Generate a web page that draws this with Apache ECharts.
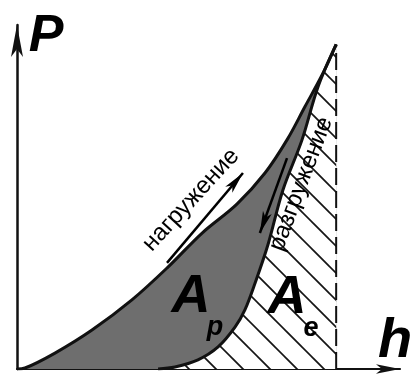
<!DOCTYPE html>
<html>
<head>
<meta charset="utf-8">
<script src="https://cdn.jsdelivr.net/npm/echarts@6/dist/echarts.min.js"></script>
<style>
  html, body { margin: 0; padding: 0; background: #fff; }
  #chart { width: 412px; height: 374px; }
</style>
</head>
<body>
<div id="chart"></div>
<script>
// Indentation depth h and load P, both relative to their maxima
const loadingH   = [0, 0.025, 0.119, 0.235, 0.360, 0.473, 0.580, 0.689, 0.777, 0.846, 0.902, 0.959, 1];
const loadingP   = [0, 0.003, 0.049, 0.120, 0.213, 0.314, 0.419, 0.508, 0.604, 0.706, 0.808, 0.912, 1];
const unloadingH = [0.442, 0.495, 0.567, 0.630, 0.683, 0.714, 0.746, 0.786, 0.833, 0.893, 0.943, 1];
const unloadingP = [0, 0.006, 0.028, 0.068, 0.129, 0.182, 0.265, 0.382, 0.551, 0.706, 0.869, 1];

// Direction arrows beside the curve captions: [start, end] in (h, P)
const loadingArrow   = [[0.470, 0.327], [0.708, 0.604]];
const unloadingArrow = [[0.846, 0.650], [0.761, 0.419]];

// Axis extents
const hMax = 1.2;
const pMax = 1.06;

const zip = (xs, ys) => xs.map((x, i) => [x, ys[i]]);
const loadingData = zip(loadingH, loadingP);
const unloadingData = zip(unloadingH, unloadingP);
const peakH = loadingH[loadingH.length - 1];
const peakP = loadingP[loadingP.length - 1];

// Diagonal hatching for the elastic work region
function hatch() {
  const s = 27;
  const c = document.createElement('canvas');
  c.width = s; c.height = s;
  const g = c.getContext('2d');
  g.fillStyle = '#fff';
  g.fillRect(0, 0, s, s);
  g.strokeStyle = '#151515';
  g.lineWidth = 1.7;
  for (const k of [-s, 0, s]) {
    g.beginPath();
    g.moveTo(-2, -2 + 18 + k);
    g.lineTo(s + 2, s + 2 + 18 + k);
    g.stroke();
  }
  return c;
}

const chart = echarts.init(document.getElementById('chart'), null, { renderer: 'canvas' });
const font = '"Liberation Sans", Arial, sans-serif';
const deg = Math.PI / 180;

function txt(text, x, y, size, style, rot) {
  return {
    type: 'text', x: x, y: y, rotation: (rot || 0) * deg, z: 100,
    style: {
      text: text, fill: '#000',
      font: style + ' ' + size + 'px ' + font,
      align: 'center', verticalAlign: 'middle',
      textAlign: 'center', textVerticalAlign: 'middle'
    }
  };
}

const curveLine = { color: '#111', width: 3 };

chart.setOption({
  animation: false,
  grid: { left: 17, right: 12, top: 25, bottom: 5 },
  xAxis: {
    type: 'value', min: 0, max: hMax,
    axisLine: { show: true, lineStyle: { color: '#111', width: 2.2 }, symbol: ['none', 'arrow'], symbolSize: [7, 24] },
    axisTick: { show: false }, axisLabel: { show: false }, splitLine: { show: false }
  },
  yAxis: {
    type: 'value', min: 0, max: pMax,
    axisLine: { show: true, lineStyle: { color: '#111', width: 2.5 }, symbol: ['none', 'arrow'], symbolSize: [9, 32] },
    axisTick: { show: false }, axisLabel: { show: false }, splitLine: { show: false }
  },
  series: [
    { // plastic work A_p: area under loading curve (later partly covered by hatching)
      type: 'line', data: loadingData, smooth: 0.35, showSymbol: false, silent: true,
      lineStyle: { opacity: 0 }, areaStyle: { color: '#6e6e6e', opacity: 1 }, z: 1
    },
    { // elastic work A_e: area under unloading curve
      type: 'line', data: unloadingData, smooth: 0.35, showSymbol: false, silent: true,
      lineStyle: { opacity: 0 }, areaStyle: { color: { image: hatch(), repeat: 'repeat' }, opacity: 1 }, z: 2
    },
    { // maximum depth marker
      type: 'line', data: [[peakH, 0], [peakH, peakP]], showSymbol: false, silent: true,
      lineStyle: { color: '#111', width: 2, type: [17, 6] }, z: 3
    },
    { type: 'line', data: loadingData, smooth: 0.35, showSymbol: false, silent: true, lineStyle: curveLine, z: 4 },
    { type: 'line', data: unloadingData, smooth: 0.35, showSymbol: false, silent: true, lineStyle: curveLine, z: 4 },
    {
      type: 'line', data: [], silent: true, z: 5,
      markLine: {
        silent: true, symbol: ['none', 'arrow'], symbolSize: [7, 22], label: { show: false },
        lineStyle: { color: '#000', width: 2.5, type: 'solid' },
        data: [
          [{ coord: loadingArrow[0] }, { coord: loadingArrow[1] }],
          [{ coord: unloadingArrow[0] }, { coord: unloadingArrow[1] }]
        ]
      }
    }
  ],
  graphic: [
    txt('P', 46, 37, 52, 'italic bold'),
    txt('h', 395, 342, 56, 'italic bold'),
    txt('нагружение', 191, 200, 24, 'normal', 47.4),
    txt('разгружение', 301, 184, 24, 'normal', 69.3),
    txt('A', 191, 297, 54, 'italic bold'),
    txt('p', 215, 328, 27, 'italic bold'),
    txt('A', 287, 298, 54, 'italic bold'),
    txt('e', 311, 329, 27, 'italic bold')
  ]
});
</script>
</body>
</html>
